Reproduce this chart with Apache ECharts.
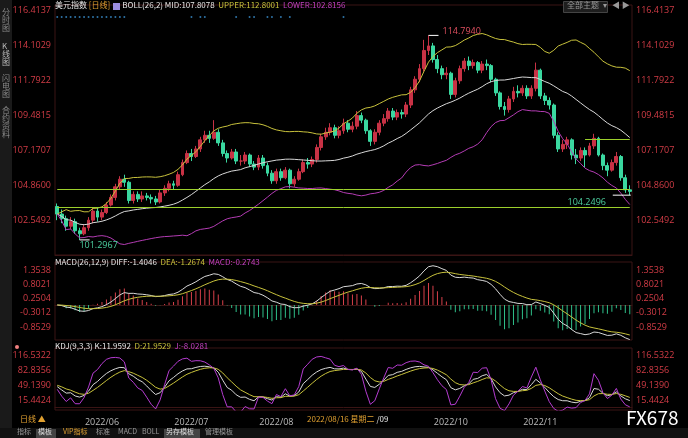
<!DOCTYPE html>
<html>
<head>
<meta charset="utf-8">
<script src="https://cdn.jsdelivr.net/npm/echarts@6/dist/echarts.min.js"></script>
<style>
html,body{margin:0;padding:0;background:#000;}
#main{width:688px;height:438px;}
</style>
</head>
<body>
<div id="main"></div>
<script>
// 美元指数 日线 2022/05 - 2022/12
var closes = [103.0,102.7,102.2,102.5,101.9,101.7,102.1,102.6,103.2,102.8,103.1,103.6,104.1,104.8,105.3,105.1,103.9,104.3,104.0,104.2,
  104.1,104.0,103.8,104.4,104.7,105.0,104.9,105.6,106.4,107.0,106.8,107.3,107.9,108.2,108.0,108.4,107.7,107.0,106.7,107.1,
  106.5,106.5,106.9,106.3,106.1,106.7,106.2,105.7,105.2,105.8,105.4,105.9,105.0,105.3,105.8,106.4,106.3,106.6,107.4,108.1,
  108.4,108.7,108.2,108.5,109.0,108.6,108.8,109.5,109.2,108.5,107.8,108.4,109.0,109.3,109.8,109.4,109.7,109.6,110.2,111.2,
  111.9,112.6,113.8,114.1,113.2,112.6,112.2,112.3,110.9,111.8,112.6,113.1,112.8,113.0,112.5,112.9,112.8,111.9,111.0,110.1,
  109.9,110.6,111.1,111.0,111.3,110.8,111.3,112.5,110.8,110.5,110.2,108.2,107.3,107.6,107.9,106.9,106.7,107.2,106.9,107.5,
  108.0,106.9,106.2,105.9,106.4,106.8,105.4,104.6,104.5];
var opens = [103.5,103.0,102.7,102.2,102.5,101.9,101.7,102.1,102.6,103.2,102.8,103.1,103.6,104.1,104.8,105.3,105.1,103.9,104.3,104.0,
  104.2,104.1,104.0,103.8,104.4,104.7,105.0,104.9,105.6,106.4,107.0,106.8,107.3,107.9,108.2,108.0,108.4,107.7,107.0,106.7,
  107.1,106.5,106.5,106.9,106.3,106.1,106.7,106.2,105.7,105.2,105.8,105.4,105.9,105.0,105.3,105.8,106.4,106.3,106.6,107.4,
  108.1,108.4,108.7,108.2,108.5,109.0,108.6,108.8,109.5,109.2,108.5,107.8,108.4,109.0,109.3,109.8,109.4,109.7,109.6,110.2,
  111.2,111.9,112.6,113.8,114.1,113.2,112.6,112.2,112.3,110.9,111.8,112.6,113.1,112.8,113.0,112.5,112.9,112.8,111.9,111.0,
  110.1,109.9,110.6,111.1,111.0,111.3,110.8,111.3,112.5,110.8,110.5,110.2,108.2,107.3,107.6,107.9,106.9,106.7,107.2,106.9,
  107.5,108.0,106.9,106.2,105.9,106.4,106.8,105.4,104.6];
var highs = [103.7,103.3,102.9,102.8,102.7,102.1,102.3,102.8,103.4,103.4,103.3,103.8,104.3,105.0,105.5,105.6,105.2,104.5,104.5,104.5,
  104.4,104.3,104.2,104.6,104.9,105.2,105.2,105.8,106.6,107.2,107.3,107.5,108.1,108.5,108.5,109.2,108.6,107.9,107.2,107.3,
  107.3,106.9,107.1,107.0,106.5,106.9,106.9,106.4,105.9,106.0,106.0,106.1,106.0,105.5,106.0,106.6,106.7,106.8,107.6,108.3,
  108.7,109.0,108.9,108.8,109.3,109.2,109.1,109.8,109.7,109.3,108.6,108.6,109.2,109.6,110.0,110.0,109.9,109.9,110.4,111.4,
  112.1,112.9,114.5,114.794,114.3,113.5,112.8,112.7,112.4,112.0,112.8,113.3,113.4,113.2,113.1,113.1,113.2,112.9,112.0,111.1,
  110.4,110.8,111.4,111.5,111.5,111.5,111.5,113.0,112.6,111.0,110.7,110.3,108.4,107.9,108.1,108.0,107.3,107.4,107.4,107.7,
  108.3,108.1,107.0,106.4,106.6,107.1,106.9,105.6,104.9];
var lows = [102.6,102.4,101.9,102.0,101.7,101.2967,101.6,101.9,102.4,102.5,102.6,103.0,103.5,103.9,104.6,104.8,103.7,103.7,103.8,103.8,
  103.9,103.7,103.6,103.7,104.2,104.5,104.6,104.8,105.5,106.3,106.5,106.7,107.1,107.7,107.7,107.9,107.5,106.8,106.4,106.6,
  106.3,106.2,106.3,106.1,105.9,105.9,106.0,105.5,105.0,105.0,105.2,105.3,104.7,104.8,105.2,105.7,106.0,106.1,106.4,107.2,
  107.9,108.2,108.0,108.0,108.3,108.4,108.4,108.6,109.0,108.3,107.5,107.6,108.2,108.8,109.1,109.2,109.2,109.3,109.4,110.0,
  111.0,111.7,112.4,113.5,113.0,112.3,111.9,111.9,110.6,110.7,111.6,112.4,112.5,112.6,112.3,112.3,112.5,111.7,110.8,109.9,
  109.5,109.7,110.4,110.7,110.8,110.6,110.6,111.1,110.6,110.2,109.9,108.0,107.1,107.1,107.3,106.6,106.3,106.5,106.1,106.8,
  107.3,106.8,105.9,105.5,105.8,106.2,105.2,104.4,104.2496];
var starIdx = [0,1,2,3,4,5,6,7,8,9,10,11,12,13,14,15,30,32,33,40,43,44,47,48,50,52,64];
var monthIdx = [10,30,49,88,108];
var monthLbl = ['2022/06','2022/07','2022/08','2022/10','2022/11'];
var priceTicks = [116.4137,114.1029,111.7922,109.4815,107.1707,104.8600,102.5492];
var macdTicks = [1.3538,0.8021,0.2504,-0.3012,-0.8529];
var kdjTicks = [116.5322,82.8356,49.1390,15.4424];

var n = closes.length;
var cats = closes.map(function (v, i) { return i; });
var kData = closes.map(function (c, i) { return [opens[i], c, lows[i], highs[i]]; });

// BOLL(26,2)
var mid = [], up = [], lo = [];
for (var i = 0; i < n; i++) {
  var s = Math.max(0, i - 25), arr = closes.slice(s, i + 1);
  var m = arr.reduce(function (a, b) { return a + b; }, 0) / arr.length;
  var sd = Math.sqrt(arr.reduce(function (a, b) { return a + (b - m) * (b - m); }, 0) / arr.length);
  mid.push(+m.toFixed(3)); up.push(+(m + 2 * sd).toFixed(3)); lo.push(+(m - 2 * sd).toFixed(3));
}
// MACD
var e12 = closes[0], e26 = closes[0], dea = 0, diffA = [], deaA = [], macdA = [];
for (var i = 0; i < n; i++) {
  e12 = e12 * 11 / 13 + closes[i] * 2 / 13;
  e26 = e26 * 25 / 27 + closes[i] * 2 / 27;
  var d = e12 - e26;
  dea = dea * 8 / 10 + d * 2 / 10;
  diffA.push(+d.toFixed(4)); deaA.push(+dea.toFixed(4));
  var h = 2 * (d - dea);
  macdA.push({ value: +h.toFixed(4), itemStyle: { color: h >= 0 ? '#d8404a' : '#2fc08a' } });
}
// KDJ(9,3,3)
var K = 50, D = 50, kA = [], dA = [], jA = [];
for (var i = 0; i < n; i++) {
  var s = Math.max(0, i - 8);
  var hh = Math.max.apply(null, highs.slice(s, i + 1)), ll = Math.min.apply(null, lows.slice(s, i + 1));
  var rsv = hh === ll ? 50 : (closes[i] - ll) / (hh - ll) * 100;
  K = K * 2 / 3 + rsv / 3; D = D * 2 / 3 + K / 3;
  kA.push(+K.toFixed(2)); dA.push(+D.toFixed(2)); jA.push(+(3 * K - 2 * D).toFixed(2));
}

var chart = echarts.init(document.getElementById('main'));
var red = '#d23c46', font = 'Noto Sans CJK SC';
function yAx(grid, min, max, ticks, pos) {
  return {
    gridIndex: grid, min: min, max: max, position: pos, scale: true,
    axisLine: { show: false }, axisTick: { show: false }, splitLine: { show: false },
    axisLabel: { customValues: ticks, color: red, fontSize: 9, fontFamily: 'Open Sans', margin: 4,
      formatter: function (v) { return v.toFixed(4); } }
  };
}
function xAx(grid, showLbl) {
  return {
    type: 'category', gridIndex: grid, data: cats, boundaryGap: true,
    axisLine: { show: true, lineStyle: { color: '#3a1414' } }, axisTick: { show: false }, splitLine: { show: false },
    axisLabel: showLbl ? {
      color: '#bbb', fontSize: 9, fontFamily: 'Open Sans', margin: 8,
      interval: function (i) { return monthIdx.indexOf(i) >= 0; },
      formatter: function (v) { var k = monthIdx.indexOf(+v); return k >= 0 ? monthLbl[k] : ''; }
    } : { show: false }
  };
}
function ln(name, data, color, x, y) {
  return { name: name, type: 'line', xAxisIndex: x, yAxisIndex: y, data: data, symbol: 'none',
    lineStyle: { width: 1, color: color }, silent: true };
}
var t = function (x, y, text, color, size) {
  return { type: 'text', left: x, top: y, style: { text: text, fill: color, fontSize: size || 8, fontFamily: font } };
};
// 一行多色文字
var rt = function (x, y, text, rich) {
  return { type: 'text', left: x, top: y, style: { text: text, fontSize: 8, fontFamily: font, fill: '#e8e8e8', rich: rich } };
};
var rich = {
  w: { fill: '#e8e8e8', fontSize: 8, fontFamily: font },
  o: { fill: '#e0a030', fontSize: 8, fontFamily: font },
  y: { fill: '#c8c23c', fontSize: 8, fontFamily: font },
  m: { fill: '#c040c0', fontSize: 8, fontFamily: font },
  g: { width: 12 }
};
var end = n - 1;
chart.setOption({
  backgroundColor: '#000',
  animation: false,
  grid: [
    { left: 55, right: 56, top: 5, height: 250, show: true, borderColor: '#3a1414', borderWidth: 1 },
    { left: 55, right: 56, top: 262, height: 78, show: true, borderColor: '#3a1414', borderWidth: 1 },
    { left: 55, right: 56, top: 348, height: 62, show: true, borderColor: '#3a1414', borderWidth: 1 }
  ],
  xAxis: [xAx(0, false), xAx(1, false), xAx(2, true)],
  yAxis: [
    yAx(0, 100.3, 116.8, priceTicks, 'left'), yAx(0, 100.3, 116.8, priceTicks, 'right'),
    yAx(1, -1.354, 1.662, macdTicks, 'left'), yAx(1, -1.354, 1.662, macdTicks, 'right'),
    yAx(2, -7.02, 132.26, kdjTicks, 'left'), yAx(2, -7.02, 132.26, kdjTicks, 'right')
  ],
  series: [
    ln('MID', mid, '#d8d8d8', 0, 0), ln('UPPER', up, '#c8c23c', 0, 0), ln('LOWER', lo, '#b43cb4', 0, 0),
    {
      type: 'candlestick', xAxisIndex: 0, yAxisIndex: 0, data: kData, barWidth: 3.4,
      itemStyle: { color: '#c83245', color0: '#3ad8a0', borderColor: '#c83245', borderColor0: '#3ad8a0', borderWidth: 1 },
      markLine: {
        symbol: 'none', silent: true, label: { show: false },
        lineStyle: { color: '#9cd02c', type: 'solid', width: 1 },
        data: [
          [{ coord: [0, 104.62] }, { coord: [end, 104.62] }],
          [{ coord: [0, 103.42] }, { coord: [end, 103.42] }],
          [{ coord: [118, 107.96] }, { coord: [end, 107.96] }],
          [{ coord: [end, 109.4316], lineStyle: { opacity: 0 }, label: { show: true, position: 'end', distance: 6,
              formatter: '109.4316', color: '#e0a030', fontSize: 9, fontFamily: 'Open Sans', backgroundColor: '#000' } },
           { coord: [end, 109.4316] }]
        ]
      },
      markPoint: {
        symbol: 'rect', symbolSize: [10, 1], silent: true,
        data: [
          { coord: [83, 114.794], itemStyle: { color: '#fff' }, symbolOffset: [5, 0],
            label: { formatter: '114.7940', color: '#e05060', fontSize: 9, fontFamily: 'Open Sans', position: 'right', distance: 4, offset: [0, -4] } },
          { coord: [5, 101.2967], itemStyle: { color: '#fff' }, symbolOffset: [5, 0],
            label: { formatter: '101.2967', color: '#4cd0a0', fontSize: 9, fontFamily: 'Open Sans', position: 'bottom', distance: 1, offset: [14, 0] } },
          { coord: [end, 104.2496], itemStyle: { color: '#fff' }, symbolSize: [18, 1], symbolOffset: [-8, 0],
            label: { formatter: '104.2496', color: '#4cd0a0', fontSize: 9, fontFamily: 'Open Sans', position: 'bottom', distance: 2, offset: [-35, 0] } }
        ]
      }
    },
    { type: 'scatter', xAxisIndex: 0, yAxisIndex: 0, symbol: 'circle', symbolSize: 2, silent: true,
      itemStyle: { color: '#3a90d0' }, data: starIdx.map(function (i) { return [i, 116.0]; }) },
    { type: 'bar', xAxisIndex: 1, yAxisIndex: 2, data: macdA, barWidth: 1, silent: true },
    ln('DIFF', diffA, '#d8d8d8', 1, 2), ln('DEA', deaA, '#c8c23c', 1, 2),
    ln('K', kA, '#d8d8d8', 2, 4), ln('D', dA, '#c8c23c', 2, 4), ln('J', jA, '#b43cd0', 2, 4)
  ],
  graphic: [
    { type: 'rect', left: 0, top: 0, shape: { width: 12, height: 438 }, style: { fill: '#1a1a1a' } },
    t(2, 8, '分\n时\n图', '#888', 8), t(2, 42, 'K\n线\n图', '#bbb', 8), t(2, 74, '闪\n电\n图', '#888', 8), t(2, 106, '合\n约\n资\n料', '#888', 8),
    rt(55, 1, '{w|美元指数} {o|[日线]}{g|}{w|BOLL(26,2) MID:107.8078}  {y|UPPER:112.8001}  {m|LOWER:102.8156}', rich),
    { type: 'rect', left: 113, top: 3, shape: { width: 7, height: 7 }, style: { fill: '#9a8ce0' } },
    { type: 'rect', left: 563, top: 1, shape: { width: 44, height: 11 }, style: { fill: '#1e1e1e', stroke: '#444' } },
    t(567, 1, '全部主题  ▾', '#999', 8), t(612, 1, '◀ ▶', '#999', 8),
    rt(55, 258, '{w|MACD(26,12,9) DIFF:-1.4046}  {y|DEA:-1.2674}  {m|MACD:-0.2743}', rich),
    { type: 'circle', shape: { cx: 17, cy: 347, r: 2 }, style: { fill: '#f08080' } },
    rt(55, 342, '{w|KDJ(9,3,3) K:11.9592}  {y|D:21.9529}  {m|J:-8.0281}', rich),
    t(20, 415, '日线 ▲', '#e0a030'),
    { type: 'rect', left: 300, top: 414, shape: { width: 80, height: 12 }, style: { fill: '#000' } },
    rt(307, 415, '{o|2022/08/16 星期二} {w|/09}', rich),
    t(626, 408, 'FX678', '#ffffff', 19),
    { type: 'rect', left: 0, top: 428, shape: { width: 688, height: 10 }, style: { fill: '#111' } },
    t(17, 428, '指标', '#999', 7), { type: 'rect', left: 36, top: 429, shape: { width: 20, height: 9 }, style: { fill: '#444' } },
    t(38, 428, '模板', '#ddd', 7), t(63, 428, 'VIP指标', '#e0a030', 7), t(96, 428, '标准', '#999', 7),
    t(118, 428, 'MACD', '#999', 7), t(142, 428, 'BOLL', '#999', 7),
    { type: 'rect', left: 164, top: 429, shape: { width: 36, height: 9 }, style: { fill: '#444' } },
    t(166, 428, '另存模板', '#ddd', 7), t(205, 428, '管理模板', '#999', 7)
  ]
});
</script>
</body>
</html>
